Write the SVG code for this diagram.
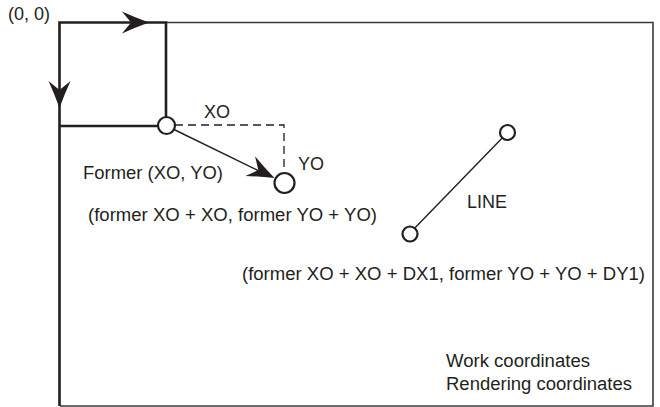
<svg xmlns="http://www.w3.org/2000/svg" width="660" height="407" viewBox="0 0 660 407">
<style>
text{font-family:"Liberation Sans",Arial,Helvetica,sans-serif;font-size:18px;fill:#231f20}
.thick{fill:none;stroke:#231f20;stroke-width:2.6}
.thin{fill:none;stroke:#3a3a3a;stroke-width:1.6}
.conn{fill:none;stroke:#231f20;stroke-width:1.4}
.dash{fill:none;stroke:#231f20;stroke-width:1.3;stroke-dasharray:8 5}
.pt{fill:#fff;stroke:#231f20;stroke-width:2.2}
.ah{fill:#231f20}
</style>
<defs>
<path id="ah" d="M0,0 Q-14,-5 -27,-11 L-18,0 L-27,11 Q-14,5 0,0 Z"/>
</defs>
<rect width="660" height="407" fill="#fff"/>
<g id="work-area">
<path class="thin" d="M166,22.5 H653 V406 H60"/>
<path class="thick" d="M59.5,406 V22.5 H166 V126 H59.5"/>
</g>
<g id="connectors">
<path class="dash" d="M175,125 H284 V172"/>
<line class="conn" x1="174" y1="129.5" x2="262" y2="172.5"/>
<line class="conn" x1="409.5" y1="233.5" x2="507.5" y2="132.5"/>
<use href="#ah" class="ah" transform="translate(149,22.5)"/>
<use href="#ah" class="ah" transform="translate(59.5,108) rotate(90)"/>
<use href="#ah" class="ah" transform="translate(274.5,178) rotate(26)"/>
</g>
<g id="former-origin"><circle class="pt" cx="166.5" cy="125.5" r="8.5"/></g>
<g id="new-origin"><circle class="pt" cx="284.5" cy="183" r="10"/></g>
<g id="line-end"><circle class="pt" cx="507.5" cy="132.5" r="7.5"/></g>
<g id="line-start"><circle class="pt" cx="410" cy="234" r="7.5"/></g>
<g id="labels">
<text x="8" y="20" textLength="42" lengthAdjust="spacingAndGlyphs">(0, 0)</text>
<text x="204" y="117.5" textLength="26" lengthAdjust="spacingAndGlyphs">XO</text>
<text x="298" y="169.5" textLength="26" lengthAdjust="spacingAndGlyphs">YO</text>
<text x="83" y="178.5" textLength="140" lengthAdjust="spacingAndGlyphs">Former (XO, YO)</text>
<text x="88" y="221" textLength="289" lengthAdjust="spacingAndGlyphs">(former XO + XO, former YO + YO)</text>
<text x="467" y="208" textLength="40" lengthAdjust="spacingAndGlyphs">LINE</text>
<text x="242" y="280" textLength="403" lengthAdjust="spacingAndGlyphs">(former XO + XO + DX1, former YO + YO + DY1)</text>
<text x="446" y="366.5" textLength="144" lengthAdjust="spacingAndGlyphs">Work coordinates</text>
<text x="446" y="390" textLength="186" lengthAdjust="spacingAndGlyphs">Rendering coordinates</text>
</g>
</svg>
